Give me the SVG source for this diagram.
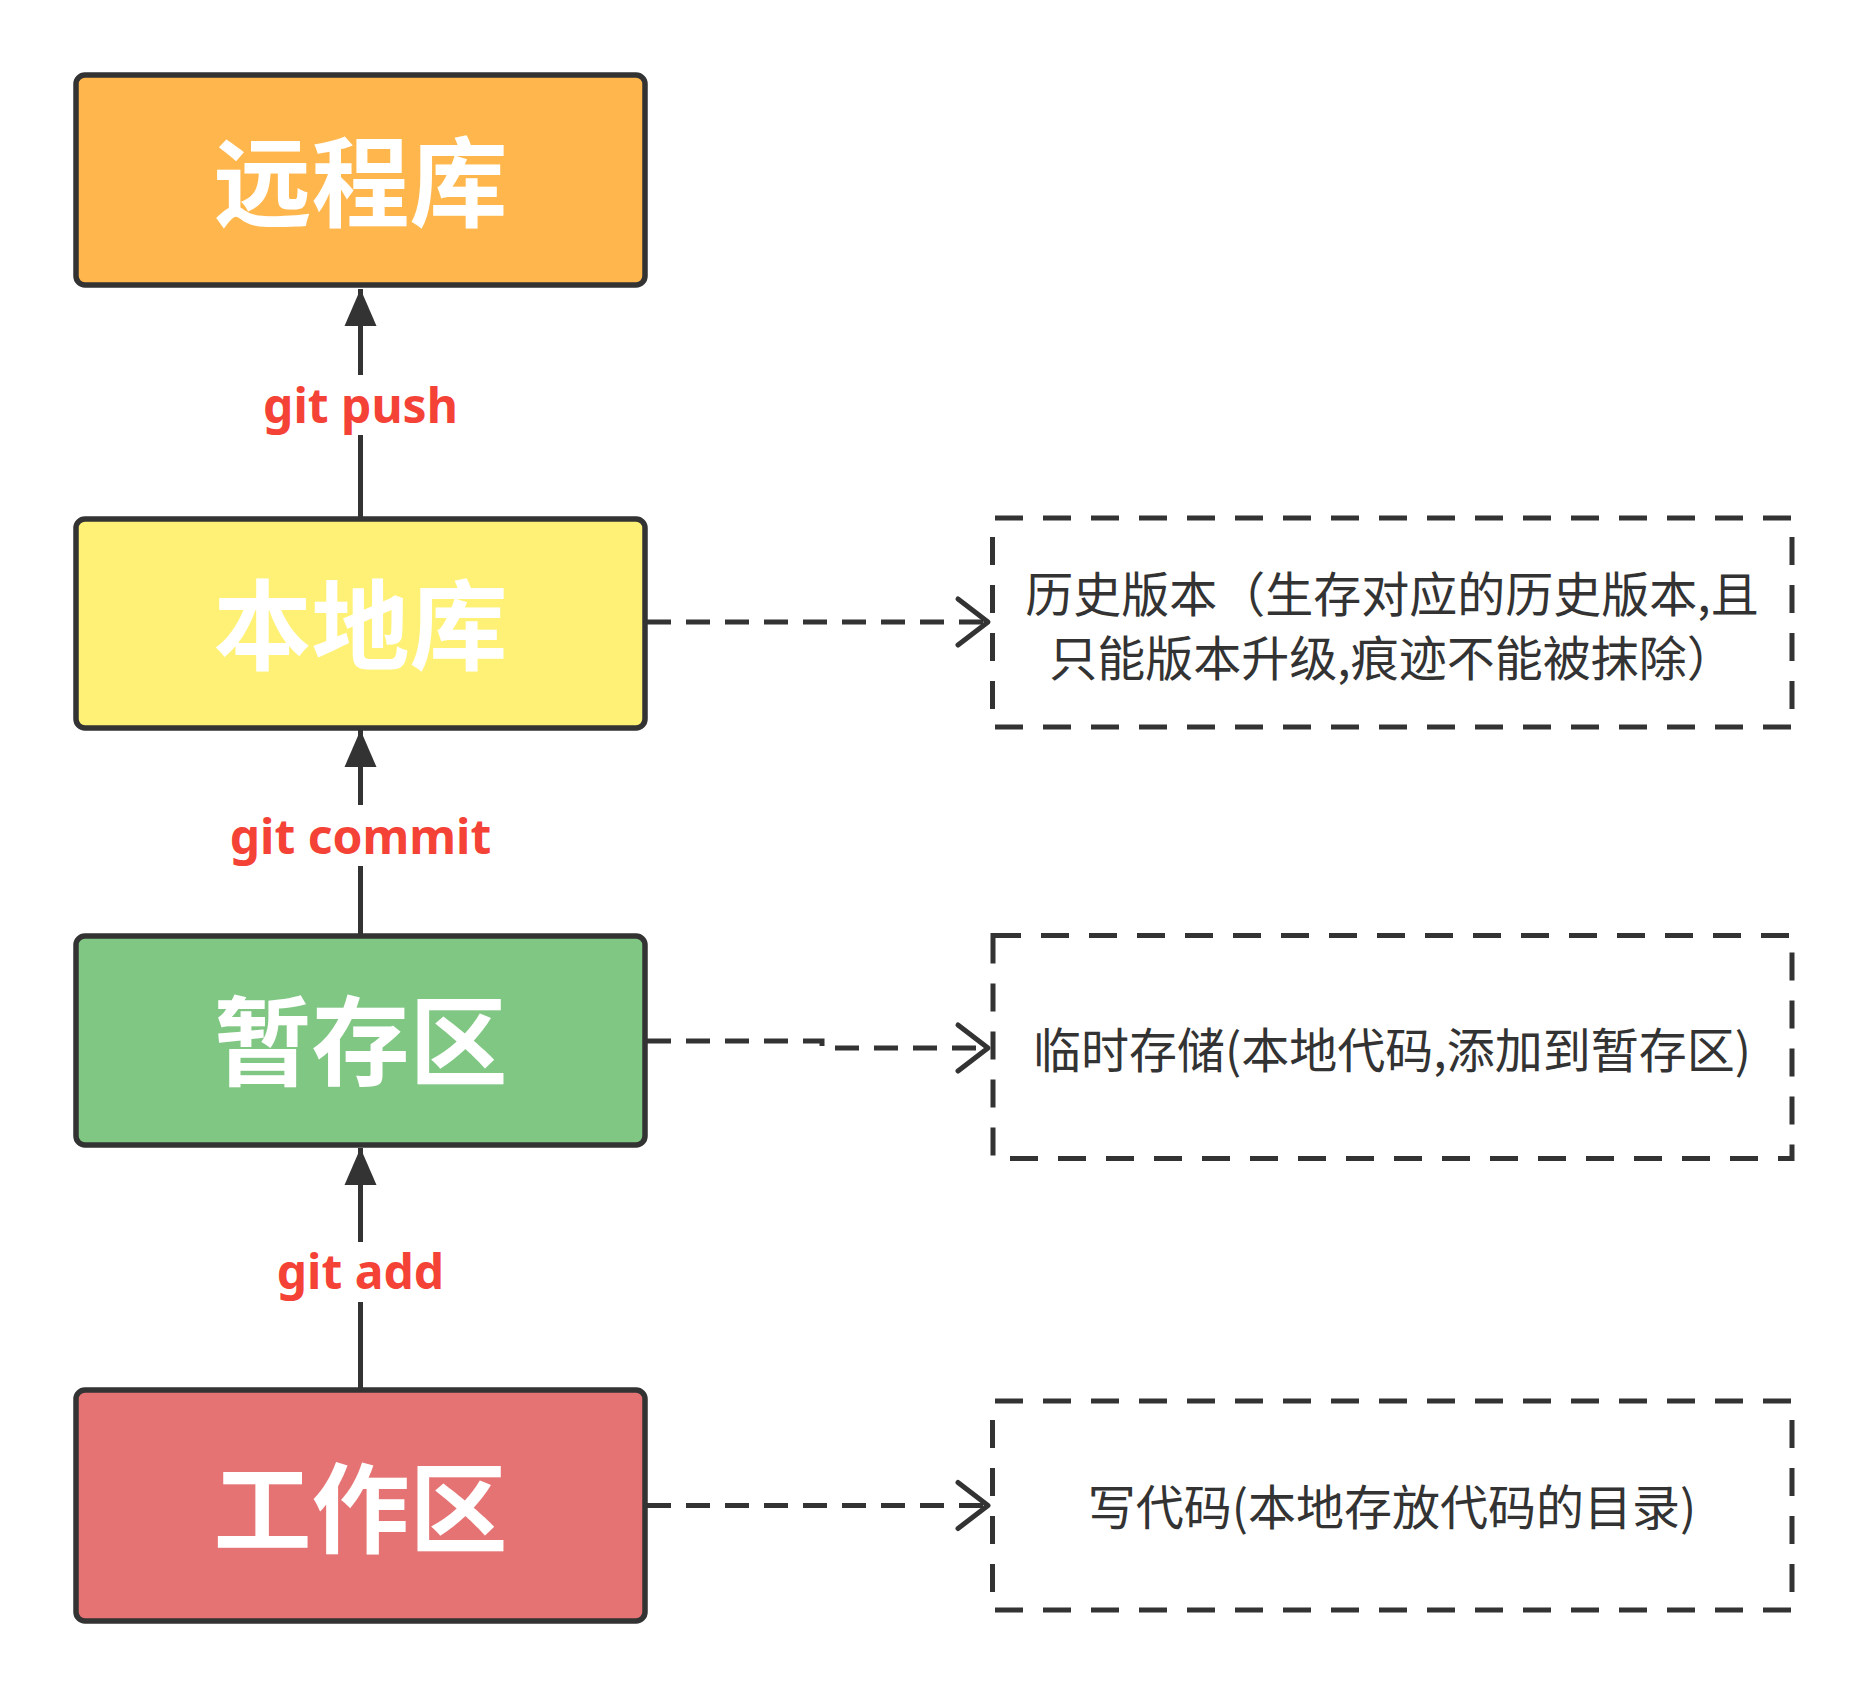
<svg xmlns="http://www.w3.org/2000/svg" width="1867" height="1698" viewBox="0 0 1867 1698">
  <style>
    .node rect { stroke: #333333; stroke-width: 5.5; }
    .title { font-family: "Noto Sans CJK SC", "Noto Sans", sans-serif; font-weight: 700; font-size: 98px; fill: #FFFFFF; text-anchor: middle; }
    .label { font-family: "Noto Sans", "Noto Sans CJK SC", sans-serif; font-weight: 700; font-size: 48px; fill: #F44336; text-anchor: middle; }
    .note { font-family: "Noto Sans CJK SC", sans-serif; font-size: 48px; fill: #333333; text-anchor: middle; }
    .dash { stroke: #333333; stroke-width: 5; fill: none; stroke-dasharray: 28 20; }
    .solid { stroke: #333333; stroke-width: 5; fill: none; }
    .conn { stroke: #333333; stroke-width: 5; fill: none; stroke-dasharray: 24 15; }
  </style>
  <defs>
    <marker id="head" viewBox="-40 -18 42 36" refX="0" refY="0" markerWidth="42" markerHeight="36" markerUnits="userSpaceOnUse" orient="auto">
      <path d="M-37,-16 L0,0 L-37,16 Z" fill="#333333" stroke="none"/>
    </marker>
    <marker id="open" viewBox="-36 -28 40 56" refX="0" refY="0" markerWidth="40" markerHeight="56" markerUnits="userSpaceOnUse" orient="auto">
      <path d="M-30,-23 L0,0 L-30,23" fill="none" stroke="#333333" stroke-width="5" stroke-dasharray="none" stroke-linecap="round" stroke-linejoin="round"/>
    </marker>
  </defs>
  <rect width="1867" height="1698" fill="#FFFFFF"/>

  <g id="connectors">
    <!-- git push -->
    <line class="solid" x1="360.5" y1="519" x2="360.5" y2="435"/>
    <line class="solid" x1="360.5" y1="375" x2="360.5" y2="289" marker-end="url(#head)"/>
    <!-- git commit -->
    <line class="solid" x1="360.5" y1="936" x2="360.5" y2="866"/>
    <line class="solid" x1="360.5" y1="805" x2="360.5" y2="730" marker-end="url(#head)"/>
    <!-- git add -->
    <line class="solid" x1="360.5" y1="1390" x2="360.5" y2="1302"/>
    <line class="solid" x1="360.5" y1="1242" x2="360.5" y2="1148" marker-end="url(#head)"/>
    <!-- notes -->
    <path class="conn" d="M647,622 H988" marker-end="url(#open)"/>
    <path class="conn" d="M647,1041 H822 V1048 H988" marker-end="url(#open)"/>
    <path class="conn" d="M647,1505.5 H988" marker-end="url(#open)"/>
    <text class="label" x="360.5" y="423">git push</text>
    <text class="label" x="360.5" y="854">git commit</text>
    <text class="label" x="360.5" y="1289">git add</text>
  </g>

  <g id="remote" class="node">
    <rect x="76" y="75" width="569" height="210" rx="9" fill="#FFB74D"/>
    <text class="title" x="360.5" y="219">远程库</text>
  </g>
  <g id="local" class="node">
    <rect x="76" y="519" width="569" height="209" rx="9" fill="#FFF176"/>
    <text class="title" x="360.5" y="662">本地库</text>
  </g>
  <g id="stage" class="node">
    <rect x="76" y="936" width="569" height="209" rx="9" fill="#81C784"/>
    <text class="title" x="360.5" y="1078">暂存区</text>
  </g>
  <g id="work" class="node">
    <rect x="76" y="1390" width="569" height="231" rx="9" fill="#E57373"/>
    <text class="title" x="360.5" y="1545">工作区</text>
  </g>

  <g id="note-history">
    <line class="dash" x1="995" y1="518" x2="1792" y2="518"/>
    <line class="dash" x1="995" y1="727" x2="1792" y2="727"/>
    <line class="dash" x1="992.5" y1="537" x2="992.5" y2="709"/>
    <line class="dash" x1="1792" y1="537" x2="1792" y2="709"/>
    <text class="note" x="1392" y="612">历史版本（生存对应的历史版本,且</text>
    <text class="note" x="1392" y="676">只能版本升级,痕迹不能被抹除）</text>
  </g>
  <g id="note-stage">
    <rect class="dash" x="993" y="935.5" width="799" height="223"/>
    <text class="note" x="1392" y="1068">临时存储(本地代码,添加到暂存区)</text>
  </g>
  <g id="note-work">
    <line class="dash" x1="995" y1="1401" x2="1792" y2="1401"/>
    <line class="dash" x1="995" y1="1610" x2="1792" y2="1610"/>
    <line class="dash" x1="992.5" y1="1420" x2="992.5" y2="1592"/>
    <line class="dash" x1="1792" y1="1420" x2="1792" y2="1592"/>
    <text class="note" x="1392" y="1525">写代码(本地存放代码的目录)</text>
  </g>
</svg>
